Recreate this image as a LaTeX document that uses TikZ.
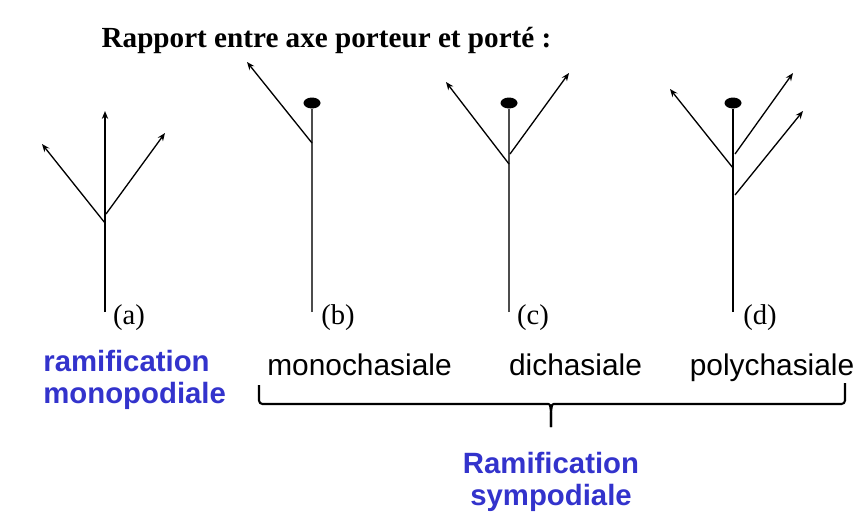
\documentclass[tikz,border=0pt]{standalone}
\usepackage{fontspec}
\setmainfont{Liberation Serif}
\setsansfont{Liberation Sans}
\usetikzlibrary{positioning, arrows.meta, shapes.geometric}
\definecolor{ramblue}{RGB}{51,51,204}

\begin{document}
\begin{tikzpicture}[x=0.02cm, y=-0.02cm, >={Stealth[length=4.5pt, width=3.6pt]}]

\tikzset{
  axe/.style={line width=0.8pt},
  axegris/.style={axe, draw=black!70},
  branche/.style={->, line width=0.75pt},
  bourgeon/.style={ellipse, fill, inner sep=0pt, minimum width=0.34cm, minimum height=0.22cm},
  lettre/.style={anchor=base, font=\fontsize{16.3}{19}\selectfont},
  type/.style={anchor=base, font=\sffamily\fontsize{17}{19}\selectfont},
  groupe/.style={font=\sffamily\bfseries\fontsize{16.7}{18.5}\selectfont, text=ramblue},
  accolade/.style={line width=1.2pt, line join=round},
}

\useasboundingbox (0,0) rectangle (857,522);

\node[anchor=base, font=\bfseries\fontsize{16.6}{20}\selectfont] (titre) at (326.5,47) {Rapport entre axe porteur et porté :};

% (a) monopodial
\coordinate (baseA) at (105,312);
\coordinate (topA) at (105,111);
\coordinate (forkA1) at (105,223);
\coordinate (forkA2) at (106,214);
\coordinate (tipA1) at (42,144);
\coordinate (tipA2) at (165,133);
\draw[branche] (baseA) -- (topA);
\draw[branche] (forkA1) -- (tipA1);
\draw[branche] (forkA2) -- (tipA2);

% (b) monochasial
\node[bourgeon] (budB) at (312,103) {};
\coordinate (baseB) at (312,312);
\coordinate (forkB) at (312,143);
\coordinate (tipB) at (247,62);
\draw[axegris] (baseB) -- (budB.south);
\draw[branche] (forkB) -- (tipB);

% (c) dichasial
\node[bourgeon] (budC) at (509,103) {};
\coordinate (baseC) at (509,312);
\coordinate (forkC1) at (509,164);
\coordinate (forkC2) at (510,154);
\coordinate (tipC1) at (446,82);
\coordinate (tipC2) at (569,73);
\draw[axegris] (baseC) -- (budC.south);
\draw[branche] (forkC1) -- (tipC1);
\draw[branche] (forkC2) -- (tipC2);

% (d) polychasial
\node[bourgeon] (budD) at (733,103) {};
\coordinate (baseD) at (733,312);
\coordinate (forkD1) at (733,168);
\coordinate (forkD2) at (735,154);
\coordinate (forkD3) at (735,195);
\coordinate (tipD1) at (670,89);
\coordinate (tipD2) at (793,73);
\coordinate (tipD3) at (803,111);
\draw[axe] (baseD) -- (budD.south);
\draw[branche] (forkD1) -- (tipD1);
\draw[branche] (forkD2) -- (tipD2);
\draw[branche] (forkD3) -- (tipD3);

\node[lettre] (labA) at (129,324) {(a)};
\node[lettre] (labB) at (338,324) {(b)};
\node[lettre] (labC) at (533,324) {(c)};
\node[lettre] (labD) at (760,324) {(d)};

\node[type] (mono) at (359.5,375) {monochasiale};
\node[type] (di) at (575.5,375) {dichasiale};
\node[type] (poly) at (772,375) {polychasiale};

\node[groupe, align=left, anchor=west, inner sep=0pt] (monopod) at (43,380) {ramification\\monopodiale};

% accolade
\coordinate (accG) at (259,385);
\coordinate (accD) at (845,383);
\coordinate (pointe) at (551,427);
\draw[accolade, rounded corners=2pt] (accG) |- (545,404) [sharp corners] .. controls (550,404) .. (551,412) -- (pointe);
\draw[accolade, rounded corners=2pt] (accD) |- (557,404) [sharp corners] .. controls (552,404) .. (551,412) -- (pointe);

\node[groupe, align=center, inner sep=0pt] (sympod) at (551,482) {Ramification\\sympodiale};

\end{tikzpicture}
\end{document}
